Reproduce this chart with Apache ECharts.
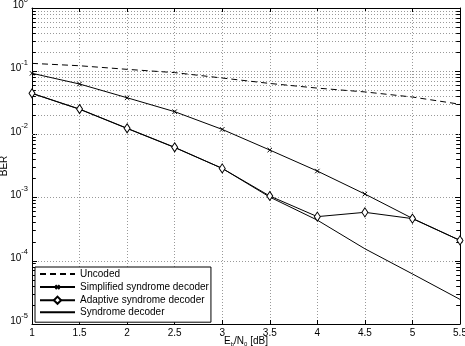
<!DOCTYPE html>
<html>
<head>
<meta charset="utf-8">
<script src="https://cdn.jsdelivr.net/npm/echarts@6/dist/echarts.min.js"></script>
<style>
  html, body { margin: 0; padding: 0; background: #fff; }
  #chart { width: 465px; height: 346px; }
</style>
</head>
<body>
<div id="chart"></div>
<script>
const ebn0 = [1, 1.5, 2, 2.5, 3, 3.5, 4, 4.5, 5, 5.5];
const uncoded = [0.133, 0.122, 0.107, 0.095, 0.078, 0.064, 0.054, 0.047, 0.039, 0.030];
const simplified = [0.0926, 0.0627, 0.038, 0.0229, 0.012, 0.00566, 0.00263, 0.00114, 0.000469, 0.00021];
const adaptive = [0.0447, 0.0252, 0.0125, 0.00625, 0.0029, 0.00106, 0.0005, 0.000585, 0.000465, 0.00021];
const syndrome = [0.0445, 0.025, 0.0124, 0.0062, 0.0029, 0.00102, 0.00044, 0.000155, 0.000062, 0.0000245];
const decades = [1e-5, 1e-4, 1e-3, 1e-2, 1e-1];
const minorSteps = [2, 3, 4, 5, 6, 7, 8, 9];
const threshold = 1e-3;

const minorValues = [];
decades.forEach(d => minorSteps.forEach(m => minorValues.push(d * m)));

const dotted = { color: '#999', width: 1, type: [1, 2] };
const tickStyle = { color: '#000', width: 1, type: 'solid' };
const markData = [];
minorValues.forEach(v => {
  markData.push({ yAxis: v, lineStyle: dotted });
  markData.push([{ coord: [1, v], lineStyle: tickStyle }, { coord: [1.04, v] }]);
  markData.push([{ coord: [5.46, v], lineStyle: tickStyle }, { coord: [5.5, v] }]);
});
markData.push({ yAxis: threshold, lineStyle: { color: '#000', width: 1, type: 'solid' } });

// cross with empty margin so it draws smaller than its box
const crossPath = 'path://M-4,-4M14,14M0,0L10,10M10,0L0,10';
const pairs = arr => arr.map((y, i) => [ebn0[i], y]);
const hidden = { color: 'rgba(0,0,0,0)', borderWidth: 0 };

const chart = echarts.init(document.getElementById('chart'));
const font = 'Liberation Sans, Arial, sans-serif';

const option = {
  animation: false,
  textStyle: { fontFamily: font },
  grid: { left: 32, right: 5, top: 8, bottom: 22, show: false, containLabel: false, outerBoundsMode: 'none' },
  legend: {
    orient: 'vertical',
    left: 35,
    top: 267,
    padding: [2, 2, 5, 4],
    itemWidth: 35,
    itemHeight: 9,
    itemGap: 2,
    backgroundColor: '#fff',
    borderColor: '#000',
    borderWidth: 1,
    textStyle: { fontFamily: font, fontSize: 10, lineHeight: 10, color: '#000' },
    data: ['Uncoded', 'Simplified syndrome decoder', 'Adaptive syndrome decoder', 'Syndrome decoder']
  },
  xAxis: [
    {
      type: 'value', min: 1, max: 5.5, interval: 0.5,
      name: '{n|E}{s|b}{n|/N}{s|0}{n| [dB]}',
      nameLocation: 'middle', nameGap: 12, nameMoveOverlap: false,
      nameTextStyle: {
        rich: {
          n: { fontSize: 10, fontFamily: font, color: '#000' },
          s: { fontSize: 6, fontFamily: font, color: '#000', padding: [5, 0, 0, 0] }
        }
      },
      axisLine: { lineStyle: { color: '#000', width: 1 } },
      axisTick: { inside: true, length: 4, lineStyle: { color: '#000' } },
      axisLabel: { color: '#000', fontSize: 10, margin: 4, fontFamily: font, formatter: v => String(v) },
      splitLine: { show: true, lineStyle: dotted }
    },
    {
      type: 'value', min: 1, max: 5.5, interval: 0.5, position: 'top',
      axisLine: { show: true, lineStyle: { color: '#000', width: 1 } },
      axisTick: { show: true, inside: true, length: 4, lineStyle: { color: '#000' } },
      axisLabel: { show: false },
      splitLine: { show: false }
    }
  ],
  yAxis: [
    {
      type: 'log', min: 1e-5, max: 1, logBase: 10,
      name: 'BER', nameLocation: 'middle', nameGap: 23, nameMoveOverlap: false,
      nameTextStyle: { fontSize: 10, color: '#000', fontFamily: font },
      axisLine: { show: true, lineStyle: { color: '#000', width: 1 } },
      axisTick: { show: true, inside: true, length: 5, lineStyle: { color: '#000' } },
      axisLabel: {
        color: '#000', margin: 4, padding: [0, 0, 5, 0],
        formatter: v => '{b|10}{s|' + Math.round(Math.log10(v)) + '}',
        rich: {
          b: { fontSize: 10, fontFamily: font, color: '#000', lineHeight: 10, verticalAlign: 'bottom' },
          s: { fontSize: 7.5, fontFamily: font, color: '#000', lineHeight: 8, verticalAlign: 'bottom', padding: [0, 0, 7, 0] }
        }
      },
      splitLine: { show: true, lineStyle: dotted }
    },
    {
      type: 'log', min: 1e-5, max: 1, logBase: 10, position: 'right',
      axisLine: { show: true, lineStyle: { color: '#000', width: 1 } },
      axisTick: { show: true, inside: true, length: 5, lineStyle: { color: '#000' } },
      axisLabel: { show: false },
      splitLine: { show: false }
    }
  ],
  series: [
    {
      name: 'Uncoded', type: 'line', data: pairs(uncoded),
      symbol: 'none', showSymbol: false,
      lineStyle: { color: '#000', width: 1, type: [6, 4] },
      itemStyle: hidden,
      z: 3,
      markLine: {
        silent: true, symbol: 'none', label: { show: false },
        animation: false, z: 1,
        data: markData
      }
    },
    {
      name: 'Simplified syndrome decoder', type: 'line', data: pairs(simplified),
      symbol: crossPath, symbolSize: 8,
      lineStyle: { color: '#000', width: 1 },
      itemStyle: { color: 'none', borderColor: '#000', borderWidth: 1 },
      z: 4
    },
    {
      name: 'Adaptive syndrome decoder', type: 'line', data: pairs(adaptive),
      symbol: 'diamond', symbolSize: [6, 9],
      lineStyle: { color: '#000', width: 1 },
      itemStyle: { color: '#fff', borderColor: '#000', borderWidth: 1 },
      z: 5
    },
    {
      name: 'Syndrome decoder', type: 'line', data: pairs(syndrome),
      symbol: 'none', showSymbol: false,
      lineStyle: { color: '#000', width: 1 },
      itemStyle: hidden,
      z: 3
    }
  ]
};
chart.setOption(option);
</script>
</body>
</html>
